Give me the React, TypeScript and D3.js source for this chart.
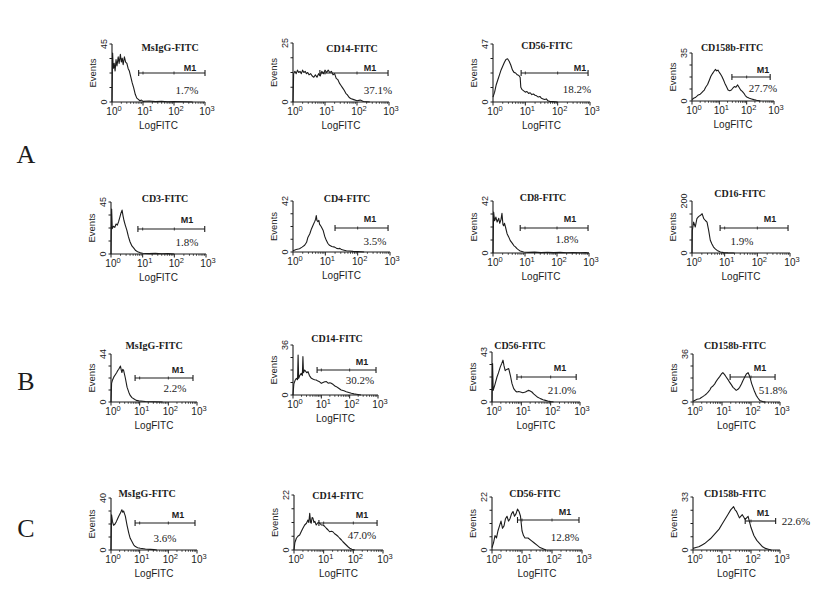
import React from 'react';
import * as d3 from 'd3';

type Pt = [number, number];

// ---------- data ----------
const titles = [
  'MsIgG-FITC', 'CD14-FITC', 'CD56-FITC', 'CD158b-FITC',
  'CD3-FITC', 'CD4-FITC', 'CD8-FITC', 'CD16-FITC',
  'MsIgG-FITC', 'CD14-FITC', 'CD56-FITC', 'CD158b-FITC',
  'MsIgG-FITC', 'CD14-FITC', 'CD56-FITC', 'CD158b-FITC',
];
const yMax = [45, 25, 47, 35, 45, 42, 42, 200, 44, 36, 43, 36, 40, 22, 22, 33];
const percents = ['1.7%', '37.1%', '18.2%', '27.7%', '1.8%', '3.5%', '1.8%', '1.9%',
  '2.2%', '30.2%', '21.0%', '51.8%', '3.6%', '47.0%', '12.8%', '22.6%'];
// M1 gate, in decades of LogFITC
const gates: [number, number][] = [
  [0.86, 3.0], [0.84, 2.97], [0.87, 2.94], [1.46, 2.86],
  [0.85, 2.96], [1.3, 2.94], [0.85, 2.97], [0.86, 2.94],
  [0.84, 2.86], [0.85, 2.93], [0.85, 2.87], [1.28, 2.83],
  [0.84, 2.93], [0.84, 2.8], [0.85, 2.9], [1.8, 2.85],
];
const rowLabels = ['A', 'B', 'C'];
const xTickLabels = ['0', '1', '2', '3'];

// histograms: [decade of LogFITC, events]
const hA1: Pt[] = [[0,0],[0.02,38],[0.04,26],[0.07,30],[0.1,24],[0.13,33],[0.16,28],[0.2,35],[0.23,30],[0.27,37],[0.3,31],[0.33,34],[0.36,29],[0.4,35],[0.44,31],[0.48,30],[0.52,26],[0.56,24],[0.6,20],[0.65,15],[0.7,11],[0.75,6],[0.8,3],[0.85,2],[0.9,1],[0.95,1.5],[1.0,0.5],[1.2,0.8],[1.4,0.3],[1.6,0.6],[1.8,0.2],[2.0,0.4],[2.3,0.2],[2.6,0]];
const hA2: Pt[] = [[0,0],[0.02,12],[0.06,13],[0.1,12],[0.14,13.5],[0.18,12.5],[0.22,13],[0.26,12],[0.3,13.5],[0.34,12.5],[0.38,13],[0.42,12],[0.46,12.5],[0.5,11.5],[0.55,12],[0.6,11],[0.65,10.5],[0.7,11.5],[0.75,10.5],[0.8,12],[0.85,11],[0.9,13],[0.95,12],[1.0,13.5],[1.05,12.5],[1.1,13.5],[1.15,12.5],[1.2,13],[1.25,11.5],[1.3,12],[1.35,10],[1.4,9.5],[1.45,8],[1.5,7],[1.55,6],[1.6,5],[1.65,3.7],[1.7,3],[1.75,2],[1.8,1.5],[1.9,1],[2.0,0.5],[2.1,0.8],[2.2,0.2],[2.4,0]];
const hA3: Pt[] = [[0,4],[0.05,8],[0.1,14],[0.15,18],[0.2,22],[0.25,26],[0.3,29],[0.35,32],[0.4,34.5],[0.45,35],[0.5,33],[0.55,30],[0.6,26],[0.65,24],[0.7,23.5],[0.75,22],[0.8,21.5],[0.84,20],[0.86,12],[0.9,10],[0.95,9],[1.0,8],[1.05,8.5],[1.1,7],[1.15,7.5],[1.2,6],[1.25,6.5],[1.3,5.5],[1.35,5],[1.4,4],[1.45,4.5],[1.5,3],[1.55,2.5],[1.6,2],[1.65,2.5],[1.7,1],[1.75,0.5],[1.85,0.3],[2.0,0]];
const hA4: Pt[] = [[0,1],[0.06,2],[0.12,2.5],[0.18,3.5],[0.23,4.4],[0.3,5],[0.35,6],[0.4,7],[0.45,8],[0.5,10],[0.57,12],[0.63,15],[0.69,18],[0.75,20],[0.8,21.5],[0.86,23],[0.9,22],[0.95,22.5],[0.98,21.5],[1.03,20],[1.09,18],[1.15,15.5],[1.2,13],[1.26,10.5],[1.32,8],[1.38,7.5],[1.44,8],[1.5,9.5],[1.55,10.5],[1.6,10],[1.67,11.7],[1.72,10],[1.78,8],[1.84,7],[1.9,5.6],[1.95,4],[2.0,3],[2.1,2],[2.18,1.5],[2.26,1],[2.36,0.5],[2.5,0]];
const hCD3: Pt[] = [[0,0],[0.02,39],[0.04,22],[0.08,24],[0.12,23],[0.16,26],[0.2,25],[0.24,28],[0.28,32],[0.31,35],[0.35,38],[0.38,33],[0.41,29],[0.45,25],[0.5,20.6],[0.55,15],[0.6,10.6],[0.66,7],[0.72,5],[0.78,3],[0.84,2],[0.93,1],[1.0,0.6],[1.2,0.3],[1.4,0.5],[1.6,0.2],[1.8,0.3],[2.0,0]];
const hCD4: Pt[] = [[0,1],[0.1,2],[0.2,2.7],[0.28,4],[0.36,5.5],[0.42,8],[0.46,12],[0.52,15],[0.57,19],[0.62,22],[0.67,25],[0.7,27],[0.72,30],[0.74,26],[0.77,25],[0.8,26],[0.82,23],[0.87,21],[0.93,18],[0.98,13],[1.03,9.6],[1.08,7],[1.13,5.5],[1.2,4.5],[1.29,4],[1.35,3],[1.4,2.7],[1.45,3],[1.5,2],[1.58,1.5],[1.65,1],[1.75,0.8],[1.86,0.5],[2.0,0.3],[2.2,0]];
const hCD8: Pt[] = [[0,0],[0.02,33],[0.05,26],[0.09,29],[0.13,25],[0.18,28],[0.21,24],[0.25,27],[0.28,32],[0.31,23],[0.33,22],[0.36,24],[0.39,21],[0.44,15.6],[0.49,13],[0.54,10],[0.6,8],[0.65,6],[0.7,5],[0.75,3.5],[0.8,2.5],[0.85,1.6],[0.96,0.8],[1.1,0.5],[1.3,0.7],[1.5,0.3],[1.7,0.6],[1.9,0.3],[2.1,0.5],[2.3,0.2],[2.5,0.4],[2.7,0.2],[2.9,0.3],[3.0,0]];
const hCD16: Pt[] = [[0,0],[0.01,87],[0.05,119],[0.1,100],[0.15,132],[0.2,140],[0.26,145],[0.31,151],[0.36,132],[0.41,125],[0.46,119],[0.51,87],[0.56,49],[0.61,35],[0.66,23],[0.72,15],[0.77,10],[0.87,4],[0.97,1.5],[1.1,0.5],[1.3,0]];
const hB1: Pt[] = [[0,0],[0.02,17],[0.05,20],[0.1,23],[0.15,25],[0.2,27],[0.24,29],[0.27,30],[0.33,33],[0.36,29],[0.38,27],[0.41,30],[0.44,29],[0.5,22],[0.56,13.6],[0.62,9],[0.67,6],[0.73,4],[0.79,3],[0.88,1.5],[0.97,1],[1.2,0.5],[1.5,0.2],[1.8,0]];
const hB2: Pt[] = [[0,0],[0.03,8],[0.08,10.8],[0.12,12],[0.16,11],[0.18,28.8],[0.2,12],[0.24,14],[0.29,15.6],[0.33,14],[0.35,27.6],[0.37,16],[0.41,18],[0.45,17],[0.49,16],[0.53,16.8],[0.58,14],[0.65,12],[0.7,11.5],[0.76,11],[0.82,10.8],[0.88,10],[0.94,9.5],[1.0,8.4],[1.06,9],[1.12,9.5],[1.18,9.6],[1.24,8.5],[1.3,8.8],[1.35,8.4],[1.42,7.5],[1.48,6.5],[1.53,6],[1.6,5],[1.7,3.6],[1.8,3],[1.88,2.4],[1.97,1.8],[2.06,1.2],[2.15,0.8],[2.24,0.5],[2.4,0]];
const hB3: Pt[] = [[0,0],[0.02,33],[0.04,10],[0.1,15],[0.17,21.5],[0.22,25],[0.28,30],[0.33,33],[0.375,36],[0.41,31],[0.45,27],[0.5,28],[0.57,28.7],[0.625,23],[0.68,16],[0.74,11.5],[0.8,9.5],[0.85,8.6],[0.91,9],[0.97,8.6],[1.05,8],[1.14,8.6],[1.2,9.5],[1.25,10],[1.3,9.5],[1.36,8.6],[1.42,7],[1.48,5.7],[1.56,4],[1.65,2.9],[1.74,2],[1.82,1.4],[1.9,0.8],[2.0,0.3],[2.1,0]];
const hB4: Pt[] = [[0,0.5],[0.06,1.2],[0.14,2],[0.23,2.5],[0.3,3.5],[0.4,5],[0.46,6],[0.52,7.4],[0.58,9],[0.63,11],[0.69,12],[0.75,13.6],[0.8,15.5],[0.86,17.4],[0.92,19],[0.98,21],[1.03,22],[1.09,20.5],[1.15,18.6],[1.2,17],[1.26,14.9],[1.32,13],[1.38,11],[1.43,10],[1.49,8.7],[1.55,9.5],[1.61,11],[1.67,13.5],[1.72,16],[1.78,18.5],[1.84,21],[1.9,22],[1.94,20],[1.98,17.4],[2.02,14],[2.07,11],[2.12,8],[2.18,5],[2.24,3],[2.3,1.2],[2.4,0.3],[2.5,0]];
const hC1: Pt[] = [[0,0],[0.02,27],[0.05,22],[0.09,19],[0.14,20],[0.19,22],[0.23,24],[0.27,26],[0.32,28],[0.36,30],[0.38,31],[0.41,29],[0.44,30],[0.47,28],[0.5,26],[0.56,19],[0.62,13],[0.67,9],[0.73,6.5],[0.79,4],[0.85,2.6],[0.93,1.8],[1.02,1.3],[1.2,0.8],[1.37,0.5],[1.5,0.3],[1.6,0]];
const hC2: Pt[] = [[0,0],[0.03,3],[0.08,4.7],[0.13,5.5],[0.19,6],[0.25,7.5],[0.3,8.7],[0.36,10],[0.42,10.7],[0.47,12],[0.5,11],[0.53,14.7],[0.56,11],[0.58,10.7],[0.61,13],[0.64,12.7],[0.67,11],[0.7,11.5],[0.75,10],[0.81,11],[0.87,10.7],[0.92,10],[0.98,10],[1.03,9.5],[1.09,8.7],[1.15,8],[1.2,7.3],[1.26,7.5],[1.31,7.3],[1.37,6.5],[1.43,6],[1.48,5.5],[1.54,4.7],[1.6,4],[1.65,3.3],[1.7,2.7],[1.76,2],[1.82,1.3],[1.88,0.7],[1.95,0.3],[2.05,0]];
const hC3: Pt[] = [[0,1],[0.05,3],[0.1,6],[0.15,5],[0.2,8],[0.25,10],[0.3,12],[0.35,9],[0.4,10],[0.45,13],[0.5,14],[0.55,12],[0.6,13],[0.65,15],[0.7,16],[0.75,14],[0.8,15],[0.85,17],[0.9,16],[0.95,14],[1.0,8],[1.05,6],[1.1,5],[1.2,5],[1.3,4],[1.4,3],[1.5,2],[1.6,1],[1.7,0.5],[1.8,0]];
const hC4: Pt[] = [[0,1],[0.1,1.5],[0.2,2],[0.3,3],[0.4,4],[0.5,5.5],[0.6,7],[0.7,9],[0.8,11],[0.9,13],[1.0,16],[1.1,19],[1.2,22],[1.3,25],[1.4,27],[1.45,25],[1.5,24],[1.6,20],[1.7,22],[1.8,19],[1.9,21],[2.0,14],[2.1,9],[2.2,6],[2.3,4],[2.4,2],[2.5,1],[2.6,0.5],[2.7,0]];

const histograms: Pt[][] = [hA1, hA2, hA3, hA4, hCD3, hCD4, hCD8, hCD16, hB1, hB2, hB3, hB4, hC1, hC2, hC3, hC4];

// ---------- layout (pixels) ----------
interface Box { ox: number; oy: number; w: number; h: number; tx: number; ty: number; mx: number; my: number; px: number; py: number; gy: number; }
const layout: Box[] = [
  { ox: 112, oy: 102, w: 93, h: 58, tx: 170, ty: 50.5, mx: 190, my: 71, px: 187, py: 94, gy: 73 },
  { ox: 293, oy: 102, w: 96, h: 59, tx: 352, ty: 51.5, mx: 370, my: 71, px: 378, py: 94, gy: 73 },
  { ox: 493, oy: 102, w: 97, h: 58, tx: 547, ty: 48.5, mx: 580, my: 71, px: 577, py: 93, gy: 73 },
  { ox: 692, oy: 101, w: 82, h: 48, tx: 732, ty: 50.5, mx: 763, my: 73, px: 763, py: 92, gy: 77 },
  { ox: 111, oy: 254, w: 95, h: 52, tx: 165, ty: 201.5, mx: 187, my: 223, px: 187, py: 246, gy: 229 },
  { ox: 293, oy: 252, w: 97, h: 51, tx: 347, ty: 201.5, mx: 370, my: 222, px: 375, py: 245, gy: 228 },
  { ox: 493, oy: 253, w: 96, h: 52, tx: 543, ty: 200.5, mx: 570, my: 222, px: 567, py: 243, gy: 228 },
  { ox: 692, oy: 253, w: 98, h: 52, tx: 740, ty: 196.5, mx: 770, my: 222, px: 742, py: 245, gy: 228 },
  { ox: 111, oy: 402, w: 86, h: 48, tx: 154, ty: 348.5, mx: 178, my: 373, px: 175, py: 392, gy: 378 },
  { ox: 293, oy: 395, w: 85, h: 50, tx: 337, ty: 341.5, mx: 362, my: 365, px: 360, py: 384, gy: 370 },
  { ox: 492, oy: 402, w: 88, h: 50, tx: 520, ty: 348.5, mx: 560, my: 371, px: 562, py: 394, gy: 377 },
  { ox: 693, oy: 402, w: 87, h: 48, tx: 735, ty: 348.5, mx: 760, my: 371, px: 773, py: 394, gy: 377 },
  { ox: 111, oy: 550, w: 86, h: 52, tx: 147, ty: 496.5, mx: 178, my: 518, px: 165, py: 542, gy: 523 },
  { ox: 294, oy: 550, w: 89, h: 55, tx: 338, ty: 498.5, mx: 362, my: 518, px: 362, py: 539, gy: 523 },
  { ox: 492, oy: 550, w: 90, h: 53, tx: 535, ty: 496.5, mx: 565, my: 515, px: 565, py: 541, gy: 520 },
  { ox: 693, oy: 550, w: 87, h: 53, tx: 735, ty: 496.5, mx: 763, my: 516, px: 796, py: 525, gy: 521 },
];
const rowLabelPos = [{ x: 26, y: 163 }, { x: 26, y: 390 }, { x: 26, y: 537 }];

const INK = '#1c1c1c';
const SERIF = '"Liberation Serif", "Times New Roman", serif';
const SANS = '"Liberation Sans", Arial, sans-serif';

function Panel({ i }: { i: number }) {
  const L = layout[i];
  const x = d3.scaleLog().domain([1, 1000]).range([L.ox, L.ox + L.w]);
  const y = d3.scaleLinear().domain([0, yMax[i]]).range([L.oy, L.oy - L.h]);
  const line = d3.line<Pt>().x(d => x(Math.pow(10, d[0]))).y(d => y(d[1]));
  const all = x.ticks();
  const decades = [1, 10, 100, 1000];
  const minors = all.filter(t => !decades.includes(t));
  const yTicks = d3.range(5).map(k => (yMax[i] * k) / 4);
  const g0 = x(Math.pow(10, gates[i][0]));
  const g1 = x(Math.pow(10, gates[i][1]));
  const gateTicks = [10, 100].filter(t => x(t) > g0 + 3 && x(t) < g1 - 3);
  return (
    <g>
      <text x={L.tx} y={L.ty} textAnchor="middle" fontFamily={SERIF} fontWeight="bold" fontSize={10} fill={INK}>{titles[i]}</text>
      {/* axes */}
      <line x1={L.ox} x2={L.ox} y1={L.oy} y2={L.oy - L.h} stroke={INK} strokeWidth={1.1} />
      <line x1={L.ox} x2={L.ox + L.w} y1={L.oy} y2={L.oy} stroke={INK} strokeWidth={1.1} />
      {yTicks.map((t, k) => (
        <line key={'y' + k} x1={L.ox - 2.5} x2={L.ox} y1={y(t)} y2={y(t)} stroke={INK} strokeWidth={1} />
      ))}
      {decades.map((t, k) => (
        <line key={'d' + k} x1={x(t)} x2={x(t)} y1={L.oy} y2={L.oy + 3.5} stroke={INK} strokeWidth={1} />
      ))}
      {minors.map((t, k) => (
        <line key={'m' + k} x1={x(t)} x2={x(t)} y1={L.oy} y2={L.oy + 1.8} stroke={INK} strokeWidth={0.8} />
      ))}
      {decades.map((t, k) => (
        <text key={'l' + k} x={x(t) + 2} y={L.oy + 12.5} textAnchor="middle" fontFamily={SANS} fontSize={10} fill={INK}>
          10<tspan dy={-4} fontSize={7.5}>{xTickLabels[k]}</tspan>
        </text>
      ))}
      <text x={L.ox + L.w / 2} y={L.oy + 27} textAnchor="middle" fontFamily={SANS} fontSize={10} fill={INK}>LogFITC</text>
      <text transform={`translate(${L.ox - 16},${L.oy - L.h / 2}) rotate(-90)`} textAnchor="middle" fontFamily={SANS} fontSize={9.5} fill={INK}>Events</text>
      <text transform={`translate(${L.ox - 5},${y(yMax[i])}) rotate(-90)`} textAnchor="middle" fontFamily={SANS} fontSize={9} fill={INK}>{yMax[i]}</text>
      <text transform={`translate(${L.ox - 5},${L.oy}) rotate(-90)`} textAnchor="middle" fontFamily={SANS} fontSize={9} fill={INK}>0</text>
      {/* histogram */}
      <path d={line(histograms[i]) || ''} fill="none" stroke={INK} strokeWidth={1.1} strokeLinejoin="round" />
      {/* M1 gate */}
      <line x1={g0} x2={g1} y1={L.gy} y2={L.gy} stroke={INK} strokeWidth={1.1} />
      <line x1={g0} x2={g0} y1={L.gy - 3} y2={L.gy + 3} stroke={INK} strokeWidth={1.1} />
      <line x1={g1} x2={g1} y1={L.gy - 3} y2={L.gy + 3} stroke={INK} strokeWidth={1.1} />
      {gateTicks.map((t, k) => (
        <line key={'g' + k} x1={x(t)} x2={x(t)} y1={L.gy - 1.5} y2={L.gy + 1.5} stroke={INK} strokeWidth={0.8} />
      ))}
      <text x={L.mx} y={L.my} textAnchor="middle" fontFamily={SANS} fontWeight="bold" fontSize={9} fill={INK}>M1</text>
      <text x={L.px} y={L.py} textAnchor="middle" fontFamily={SERIF} fontSize={11} fill={INK}>{percents[i]}</text>
    </g>
  );
}

export default function App() {
  return (
    <svg width={820} height={595} style={{ position: 'absolute', left: 0, top: 0, background: '#fff' }}>
      <rect x={0} y={0} width={820} height={595} fill="#fff" />
      {rowLabels.map((r, k) => (
        <text key={r} x={rowLabelPos[k].x} y={rowLabelPos[k].y} textAnchor="middle" fontFamily={SERIF} fontSize={26} fill={INK}>{r}</text>
      ))}
      {titles.map((_, i) => <Panel key={i} i={i} />)}
    </svg>
  );
}
